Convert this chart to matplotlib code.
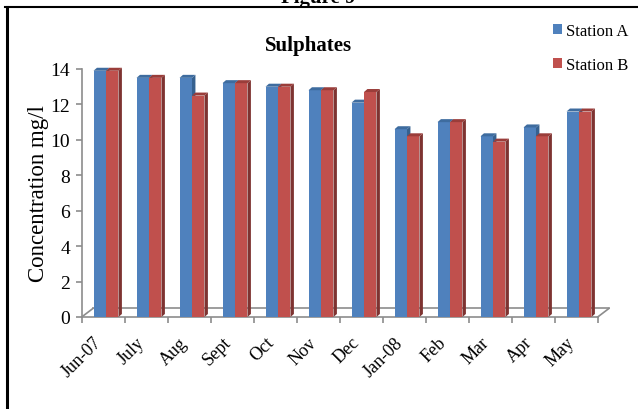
import matplotlib
matplotlib.use("Agg")
import matplotlib.pyplot as plt
import matplotlib.transforms as mtransforms
from matplotlib.patches import Polygon
from matplotlib.lines import Line2D

plt.rcParams['font.family'] = ['Liberation Serif', 'DejaVu Serif']

months = ['Jun-07', 'July', 'Aug', 'Sept', 'Oct', 'Nov', 'Dec',
          'Jan-08', 'Feb', 'Mar', 'Apr', 'May']
station_a = [13.9, 13.5, 13.5, 13.2, 13.0, 12.8, 12.1, 10.6, 11.0, 10.2, 10.7, 11.6]
station_b = [13.9, 13.5, 12.5, 13.2, 13.0, 12.8, 12.7, 10.2, 11.0, 9.9, 10.2, 11.6]
yticks = [0, 2, 4, 6, 8, 10, 12, 14]

fig = plt.figure(figsize=(6.38, 4.10), dpi=100)
W, H = 638.0, 410.0
ax = fig.add_axes([81.7 / W, 1 - 318 / H, 516 / W, 248 / H])

bw = 0.29          # bar width (category units)
ddx, ddy = 0.08, 0.17   # fake 3d depth of each bar
grey = '#8c8c8c'


def bar3d(xs, hs, front, side, top, label):
    bars = ax.bar(xs, hs, width=bw, color=front, linewidth=0, label=label,
                  zorder=3, clip_on=False)
    for x, h in zip(xs, hs):
        l, r = x - bw / 2, x + bw / 2
        ax.add_patch(Polygon([(r, 0), (r + ddx, ddy), (r + ddx, h + ddy), (r, h)],
                             closed=True, fc=side, ec='none', zorder=3, clip_on=False))
        ax.add_patch(Polygon([(l, h), (l + ddx, h + ddy), (r + ddx, h + ddy), (r, h)],
                             closed=True, fc=top, ec='none', zorder=3, clip_on=False))
    return bars


xa = [i - 0.08 for i in range(len(months))]
xb = [i + 0.21 for i in range(len(months))]
ha_ = bar3d(xa, station_a, '#4f81bd', '#36618f', '#3e6c9f', 'Station A')
hb_ = bar3d(xb, station_b, '#c0504d', '#7e3331', '#9a3d3a', 'Station B')

# floor and walls
n = len(months)
fdx, fdy = 0.26, 0.48
ax.plot([-0.5, n - 0.5], [0, 0], color=grey, lw=1.2, zorder=2, clip_on=False)
ax.plot([-0.5 + fdx, n - 0.5 + fdx], [fdy, fdy], color=grey, lw=1.2, zorder=1, clip_on=False)
ax.plot([-0.5, -0.5 + fdx], [0, fdy], color=grey, lw=1.2, zorder=1, clip_on=False)
ax.plot([n - 0.5, n - 0.5 + fdx], [0, fdy], color=grey, lw=1.2, zorder=1, clip_on=False)
ax.plot([-0.5, -0.5], [0, 14], color=grey, lw=1.2, zorder=2, clip_on=False)

ax.set_xlim(-0.5, n - 0.5)
ax.set_ylim(0, 14)
for s in ax.spines.values():
    s.set_visible(False)

ax.set_yticks(yticks)
ax.tick_params(axis='y', length=4.5, width=1.2, color=grey, pad=4, labelsize=14)
ax.set_xticks(range(n))
ax.set_xticks([i - 0.5 for i in range(n + 1)], minor=True)
ax.tick_params(axis='x', which='major', length=0, pad=12, labelsize=13)
ax.tick_params(axis='x', which='minor', length=4, width=1.2, color=grey)
ax.set_xticklabels(months, rotation=45, ha='right', va='top', rotation_mode='anchor')
shift = mtransforms.ScaledTranslation(-0.10, 0, fig.dpi_scale_trans)
for lab in ax.get_xticklabels():
    lab.set_transform(lab.get_transform() + shift)

ax.set_ylabel('Concentration mg/l', fontsize=16.5, labelpad=1)

fig.text(309 / W, 1 - 46 / H, 'Sulphates', ha='center', va='center',
         fontsize=15, fontweight='bold')
fig.text(318 / W, 1 - 3 / H, 'Figure 9', ha='center', va='baseline',
         fontsize=15, fontweight='bold')

fig.legend(handles=[ha_, hb_], loc='upper left', bbox_to_anchor=(553 / W, 1 - 24 / H),
           frameon=False, fontsize=12, handlelength=0.55, handleheight=0.55,
           handletextpad=0.2, labelspacing=1.05, borderaxespad=0, borderpad=0)

# page frame
fig.add_artist(Line2D([6.5 / W, 6.5 / W], [0, 1 - 7.5 / H], color='black', lw=2.2))
fig.add_artist(Line2D([5 / W, 1], [1 - 7.5 / H, 1 - 7.5 / H], color='black', lw=1.5))

fig.savefig('out.png', dpi=100)
